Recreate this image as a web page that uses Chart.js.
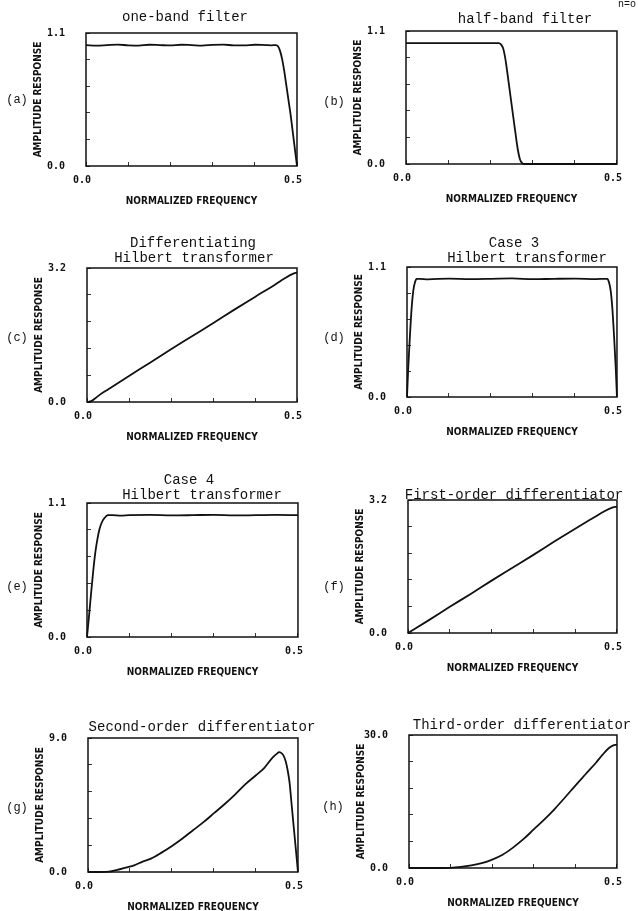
<!DOCTYPE html>
<html>
<head>
<meta charset="utf-8">
<script src="https://cdn.jsdelivr.net/npm/chart.js@4.4.1/dist/chart.umd.min.js"></script>
<style>
  html, body { margin: 0; padding: 0; background: #fff; }
  body { position: relative; width: 638px; height: 911px; overflow: hidden; }
  canvas { position: absolute; }
  .lbl {
    position: absolute;
    transform: translate(-50%, -50%);
    white-space: pre;
    font-family: "Liberation Mono", "DejaVu Sans Mono", monospace;
    color: #111;
    line-height: 1;
  }
</style>
</head>
<body>
<script>
// ---- values ----
const xTickValues = [0, 0.1, 0.2, 0.3, 0.4, 0.5];
const xTickLabels = ['0.0', '0.5'];
const xAxisTitle = 'NORMALIZED FREQUENCY';
const yAxisTitle = 'AMPLITUDE RESPONSE';

// (a) one-band filter
const freqA = [0, 0.025, 0.05, 0.075, 0.1, 0.125, 0.15, 0.175, 0.2, 0.225, 0.25, 0.275, 0.3, 0.325, 0.35,
  0.375, 0.4, 0.425, 0.44, 0.45, 0.455, 0.46, 0.465, 0.47, 0.475, 0.48, 0.485, 0.49, 0.495, 0.5];
const respA = [1.0, 0.996, 1.0, 1.004, 0.998, 0.995, 1.003, 1.0, 0.997, 1.003, 1.0, 0.996, 1.002, 1.004, 0.998,
  0.997, 1.003, 1.0, 0.998, 1.0, 0.99, 0.95, 0.88, 0.78, 0.66, 0.54, 0.42, 0.28, 0.14, 0.0];

// (b) half-band filter
const freqB = [0, 0.05, 0.1, 0.15, 0.2, 0.22, 0.225, 0.23, 0.235, 0.24, 0.245, 0.25, 0.255, 0.26, 0.265,
  0.27, 0.275, 0.28, 0.3, 0.35, 0.4, 0.45, 0.5];
const respB = [1.0, 1.0, 1.0, 1.0, 1.0, 1.0, 0.99, 0.96, 0.88, 0.76, 0.63, 0.5, 0.37, 0.24, 0.12,
  0.04, 0.01, 0, 0, 0, 0, 0, 0];

// (c) differentiating Hilbert transformer
const freqC = [0, 0.01, 0.02, 0.03, 0.05, 0.1, 0.15, 0.2, 0.25, 0.3, 0.35, 0.4, 0.45, 0.47, 0.49, 0.5];
const respC = [0, 0.02, 0.09, 0.17, 0.3, 0.62, 0.94, 1.26, 1.57, 1.88, 2.2, 2.51, 2.82, 2.95, 3.06, 3.09];

// (d) case 3 Hilbert transformer
const freqD = [0, 0.003, 0.007, 0.011, 0.015, 0.019, 0.023, 0.03, 0.05, 0.1, 0.15, 0.2, 0.25, 0.3, 0.35,
  0.4, 0.45, 0.47, 0.477, 0.481, 0.485, 0.489, 0.493, 0.497, 0.5];
const respD = [0, 0.25, 0.52, 0.75, 0.9, 0.97, 1.0, 1.0, 0.996, 1.002, 0.998, 1.0, 1.003, 0.997, 1.0,
  1.002, 0.998, 1.0, 1.0, 0.97, 0.9, 0.75, 0.52, 0.25, 0];

// (e) case 4 Hilbert transformer
const freqE = [0, 0.005, 0.01, 0.015, 0.02, 0.025, 0.03, 0.035, 0.04, 0.045, 0.05, 0.06, 0.08, 0.1, 0.15,
  0.2, 0.25, 0.3, 0.35, 0.4, 0.45, 0.5];
const respE = [0, 0.18, 0.37, 0.55, 0.7, 0.81, 0.89, 0.94, 0.97, 0.99, 1.0, 1.0, 0.997, 1.0, 1.003,
  0.998, 1.0, 1.003, 0.998, 1.0, 1.002, 1.0];

// (f) first-order differentiator
const freqF = [0, 0.05, 0.1, 0.15, 0.2, 0.25, 0.3, 0.35, 0.4, 0.45, 0.47, 0.49, 0.5];
const respF = [0, 0.31, 0.63, 0.94, 1.26, 1.57, 1.88, 2.2, 2.51, 2.81, 2.93, 3.02, 3.04];

// (g) second-order differentiator
const freqG = [0, 0.03, 0.05, 0.07, 0.09, 0.11, 0.13, 0.15, 0.175, 0.2, 0.225, 0.25, 0.275, 0.3, 0.325,
  0.35, 0.375, 0.4, 0.42, 0.44, 0.45, 0.455, 0.46, 0.465, 0.47, 0.475, 0.48, 0.485, 0.49, 0.495, 0.5];
const respG = [0, 0, 0.02, 0.15, 0.3, 0.45, 0.7, 0.9, 1.3, 1.75, 2.25, 2.8, 3.35, 3.95, 4.55,
  5.2, 5.9, 6.5, 7.0, 7.7, 7.95, 8.05, 8.0, 7.85, 7.5, 6.9, 6.0, 4.5, 3.0, 1.5, 0];

// (h) third-order differentiator
const freqH = [0, 0.05, 0.1, 0.125, 0.15, 0.175, 0.2, 0.225, 0.25, 0.275, 0.3, 0.325, 0.35, 0.375, 0.4,
  0.425, 0.45, 0.465, 0.48, 0.49, 0.5];
const respH = [0, 0, 0.05, 0.25, 0.6, 1.1, 1.9, 3.0, 4.6, 6.5, 8.7, 10.9, 13.3, 15.9, 18.6,
  21.2, 23.8, 25.5, 27.0, 27.6, 27.8];

const yMaxes = [1.1, 1.1, 3.2, 1.1, 1.1, 3.2, 9.0, 30.0];
const yTickLabels = [
  ['0.0', '1.1'], ['0.0', '1.1'], ['0.0', '3.2'], ['0.0', '1.1'],
  ['0.0', '1.1'], ['0.0', '3.2'], ['0.0', '9.0'], ['0.0', '30.0']
];
const panelLetters = ['(a)', '(b)', '(c)', '(d)', '(e)', '(f)', '(g)', '(h)'];
const panelTitles = [
  ['one-band filter'],
  ['half-band filter'],
  ['Differentiating', 'Hilbert transformer'],
  ['Case 3', 'Hilbert transformer'],
  ['Case 4', 'Hilbert transformer'],
  ['First-order differentiator'],
  ['Second-order differentiator'],
  ['Third-order differentiator']
];
const cornerNote = 'n=o';

const series = [
  [freqA, respA], [freqB, respB], [freqC, respC], [freqD, respD],
  [freqE, respE], [freqF, respF], [freqG, respG], [freqH, respH]
];

// ---- page layout (pixels) ----
// plot frame of each panel: [left, top, right, bottom]
const frames = [
  [86, 33, 297, 166], [406, 31, 619, 164],
  [87, 268, 297, 402], [407, 267, 621, 397],
  [87, 503, 298, 637], [408, 500, 621, 633],
  [88, 738, 298, 872], [409, 735, 622, 868]
];
// centre of each title line
const titleSpots = [
  [[185, 17]], [[525, 19]],
  [[193, 243], [194, 258]], [[514, 243], [527, 258]],
  [[189, 480], [202, 495]], [[514, 495]],
  [[202, 727]], [[522, 725]]
];
const letterSpots = [[17, 100], [334, 102], [17, 338], [334, 338], [17, 587], [334, 587], [17, 808], [333, 807]];

const ink = '#111';
const colWidth = 319;
const xAxisHeight = 45;
const tickFont = { family: '"DejaVu Sans Mono", monospace', size: 10, weight: 'bold' };
const axisFont = { family: '"DejaVu Sans Condensed", "DejaVu Sans", sans-serif', size: 10, weight: 'bold' };

const framePlugin = {
  id: 'frame',
  afterDatasetsDraw(chart) {
    const { ctx, chartArea: a } = chart;
    ctx.save();
    ctx.strokeStyle = ink;
    ctx.lineWidth = 1.5;
    ctx.strokeRect(a.left, a.top, a.right - a.left, a.bottom - a.top);
    ctx.restore();
  }
};

function addText(text, x, y, size) {
  const d = document.createElement('div');
  d.className = 'lbl';
  d.textContent = text;
  d.style.left = x + 'px';
  d.style.top = y + 'px';
  d.style.fontSize = size + 'px';
  document.body.appendChild(d);
}

frames.forEach((fr, i) => {
  const canvasLeft = (i % 2) * colWidth;
  const canvasTop = fr[1] - 40;
  const canvasHeight = fr[3] - fr[1] + 90;
  const yAxisWidth = fr[0] - canvasLeft;

  const canvas = document.createElement('canvas');
  canvas.width = colWidth;
  canvas.height = canvasHeight;
  canvas.style.left = canvasLeft + 'px';
  canvas.style.top = canvasTop + 'px';
  document.body.appendChild(canvas);

  const [freq, resp] = series[i];
  const yMax = yMaxes[i];
  const labels = yTickLabels[i];

  new Chart(canvas.getContext('2d'), {
    type: 'line',
    data: {
      datasets: [{
        data: freq.map((f, k) => ({ x: f, y: resp[k] })),
        borderColor: ink,
        borderWidth: 1.8,
        pointRadius: 0,
        cubicInterpolationMode: 'monotone',
        clip: 4
      }]
    },
    options: {
      responsive: false,
      animation: false,
      events: [],
      layout: { padding: { left: 0, right: canvasLeft + colWidth - fr[2], top: 40, bottom: 5 } },
      plugins: {
        legend: { display: false },
        tooltip: { enabled: false },
        title: { display: false }
      },
      scales: {
        x: {
          type: 'linear',
          min: 0,
          max: 0.5,
          afterFit: s => { s.height = xAxisHeight; },
          afterBuildTicks: s => { s.ticks = xTickValues.map(v => ({ value: v })); },
          ticks: {
            autoSkip: false,
            maxRotation: 0,
            padding: 12,
            labelOffset: -4,
            color: ink,
            font: tickFont,
            callback: (v, k, t) => k === 0 ? xTickLabels[0] : (k === t.length - 1 ? xTickLabels[1] : '')
          },
          grid: { drawOnChartArea: false, tickLength: -4, color: '#333', lineWidth: 1 },
          border: { display: false },
          title: {
            display: true,
            text: xAxisTitle,
            color: ink,
            font: axisFont,
            padding: { top: 0, bottom: xAxisHeight - 41 }
          }
        },
        y: {
          type: 'linear',
          min: 0,
          max: yMax,
          afterFit: s => { s.width = yAxisWidth; },
          afterBuildTicks: s => { s.ticks = [0, 1, 2, 3, 4, 5].map(n => ({ value: yMax * n / 5 })); },
          ticks: {
            autoSkip: false,
            padding: 25,
            color: ink,
            font: tickFont,
            callback: (v, k, t) => k === 0 ? labels[0] : (k === t.length - 1 ? labels[1] : '')
          },
          grid: { drawOnChartArea: false, tickLength: -4, color: '#333', lineWidth: 1 },
          border: { display: false },
          title: {
            display: true,
            text: yAxisTitle,
            color: ink,
            font: axisFont,
            padding: { top: yAxisWidth - 54, bottom: 0 }
          }
        }
      }
    },
    plugins: [framePlugin]
  });

  panelTitles[i].forEach((line, k) => addText(line, titleSpots[i][k][0], titleSpots[i][k][1], 14));
  addText(panelLetters[i], letterSpots[i][0], letterSpots[i][1], 12);
});

addText(cornerNote, 627, 5, 10);
</script>
</body>
</html>
